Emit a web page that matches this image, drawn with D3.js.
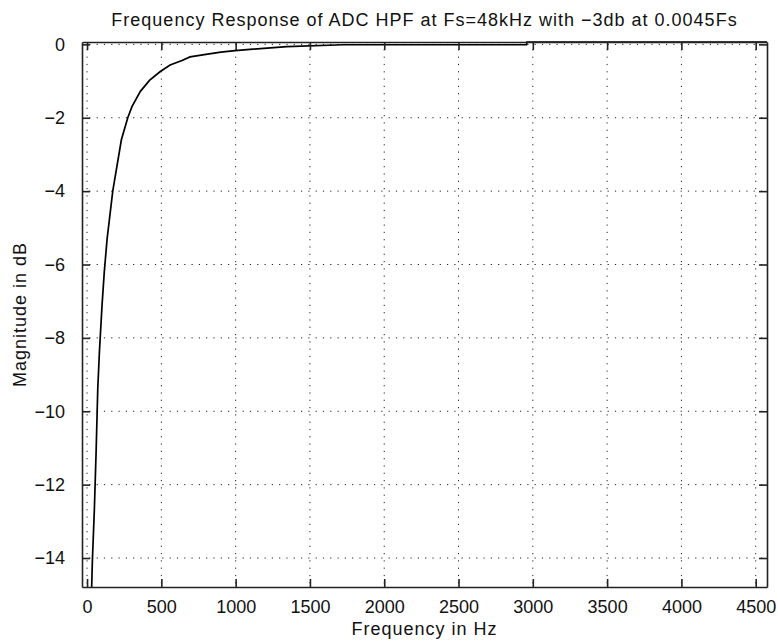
<!DOCTYPE html>
<html>
<head>
<meta charset="utf-8">
<script src="https://cdn.jsdelivr.net/npm/d3@7"></script>
<style>
  body { margin: 0; background: #fff; }
  svg { display: block; font-family: "Liberation Sans", Arial, sans-serif; }
  .grid line { stroke: #222; stroke-width: 1; stroke-dasharray: 1.2 6.1; }
  .axis path, .axis line { stroke: #222; stroke-width: 1.6; }
  .axis text { font-size: 18px; fill: #111; }
  .label { font-size: 18px; fill: #111; letter-spacing: 1px; }
</style>
</head>
<body>
<div id="chart"></div>
<script>
// values
const freqHz = [27, 36, 49, 61, 72, 83, 101, 116, 135, 173, 231, 274, 303, 359, 420, 493, 559, 639, 693, 800, 900, 996, 1117, 1344, 1725, 2958, 2960, 4576];
const magDb = [-15.4, -14.06, -12.7, -11.1, -9.4, -8.4, -7.1, -6.2, -5.3, -4.0, -2.6, -2.0, -1.69, -1.28, -0.98, -0.74, -0.56, -0.44, -0.34, -0.27, -0.21, -0.17, -0.13, -0.06, -0.01, -0.01, 0.06, 0.06];
const xTicks = [0, 500, 1000, 1500, 2000, 2500, 3000, 3500, 4000, 4500];
const yTicks = [0, -2, -4, -6, -8, -10, -12, -14];
const title = 'Frequency Response of ADC HPF at Fs=48kHz with \u22123db at 0.0045Fs';

const width = 778;
const height = 644;
const margin = { top: 42, right: 11, bottom: 57, left: 82 };
const w = width - margin.left - margin.right;
const h = height - margin.top - margin.bottom;

const svg = d3.select('#chart').append('svg')
  .attr('width', width)
  .attr('height', height);

const g = svg.append('g').attr('transform', `translate(${margin.left},${margin.top})`);

const x = d3.scaleLinear().domain([-34, 4576]).range([0, w]);
const y = d3.scaleLinear().domain([-14.79, 0.065]).range([h, 0]);

// dotted grid
const grid = g.append('g').attr('class', 'grid');
grid.selectAll('.gx').data(xTicks).join('line')
  .attr('x1', d => x(d)).attr('x2', d => x(d))
  .attr('y1', 0).attr('y2', h);
grid.selectAll('.gy').data(yTicks).join('line')
  .attr('class', 'gy')
  .attr('x1', 0).attr('x2', w)
  .attr('y1', d => y(d)).attr('y2', d => y(d));

// the response curve
g.append('clipPath').attr('id', 'clip')
  .append('rect').attr('width', w).attr('height', h + 1).attr('y', -1);

const line = d3.line()
  .x((d, i) => x(freqHz[i]))
  .y(d => y(d));

g.append('path')
  .datum(magDb)
  .attr('clip-path', 'url(#clip)')
  .attr('fill', 'none')
  .attr('stroke', '#000')
  .attr('stroke-width', 1.7)
  .attr('d', line);

// axes with inward ticks on all four sides
const fmtY = d => (d < 0 ? '\u2212' + Math.abs(d) : String(d));

g.append('g').attr('class', 'axis')
  .attr('transform', `translate(0,${h})`)
  .call(d3.axisBottom(x).tickValues(xTicks).tickSizeInner(-8).tickSizeOuter(0).tickPadding(13).tickFormat(d => String(d)))
  .call(s => s.selectAll('text').attr('dy', '0.71em'));

g.append('g').attr('class', 'axis')
  .call(d3.axisTop(x).tickValues(xTicks).tickSizeInner(-8).tickSizeOuter(0).tickFormat(''));

g.append('g').attr('class', 'axis')
  .call(d3.axisLeft(y).tickValues(yTicks).tickSizeInner(-8).tickSizeOuter(0).tickPadding(17).tickFormat(fmtY));

g.append('g').attr('class', 'axis')
  .attr('transform', `translate(${w},0)`)
  .call(d3.axisRight(y).tickValues(yTicks).tickSizeInner(-8).tickSizeOuter(0).tickFormat(''));

// titles
svg.append('text')
  .attr('class', 'label')
  .attr('x', margin.left + w / 2)
  .attr('y', 26)
  .attr('text-anchor', 'middle')
  .text(title);

svg.append('text')
  .attr('class', 'label')
  .attr('x', margin.left + w / 2)
  .attr('y', 635)
  .attr('text-anchor', 'middle')
  .text('Frequency in Hz');

svg.append('text')
  .attr('class', 'label')
  .attr('transform', `translate(26,${margin.top + h / 2}) rotate(-90)`)
  .attr('text-anchor', 'middle')
  .text('Magnitude in dB');
</script>
</body>
</html>
